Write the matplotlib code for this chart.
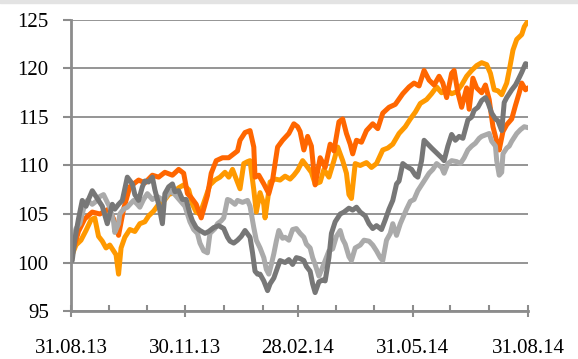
import pandas as pd
import numpy as np
import matplotlib
matplotlib.use("Agg")
import matplotlib.pyplot as plt
import matplotlib.dates as mdates
from matplotlib.patches import Rectangle

start = pd.Timestamp("2013-08-31")
end = pd.Timestamp("2014-08-31")

# days since 31.08.13 and index values
days_orange = [1, 6, 11, 17, 23, 30, 34, 38, 42, 47, 54, 59, 65, 70, 75, 81, 86, 90, 93, 96,
               100, 104, 109, 112, 116, 121, 126, 130, 133, 135, 139, 143, 146, 147, 150, 154,
               158, 161, 165, 169, 174, 178, 181, 183, 186, 189, 192, 195, 199, 203, 207, 210,
               214, 217, 220, 223, 225, 228, 232, 236, 241, 245, 249, 254, 259, 265, 270, 274,
               278, 282, 286, 290, 294, 297, 300, 304, 306, 309, 312, 316, 318, 321, 324, 328,
               331, 334, 337, 340, 342, 345, 348, 352, 355, 358, 360, 363, 365]
vals_orange = [101, 103.2, 104.5, 105.2, 105.0, 105.5, 104.5, 102.8, 105.5, 107.8, 108.5, 108.2,
               109, 108.8, 109.3, 109.0, 109.6, 109.2, 107.1, 106.7, 106, 104.6, 106.9, 109.2,
               110.5, 110.8, 110.8, 111.2, 111.5, 112.6, 113.4, 113.6, 111.9, 108.8, 109, 108.1,
               107.1, 108.5, 111.9, 112.6, 113.3, 114.3, 114, 113.5, 111.6, 113, 112, 108, 110.8,
               109.8, 112.2, 111.5, 114.5, 114.8, 113.3, 112.2, 111.2, 112.6, 112.4, 113.6, 114.3,
               113.8, 115.4, 116, 116.3, 117.4, 118.1, 118.5, 118.2, 119.8, 118.8, 118.3, 119.2,
               118.5, 117, 119.5, 119.8, 117.5, 116, 118, 115.8, 119, 118, 117.5, 118.3, 116.8,
               114, 112.5, 111.6, 113.5, 114.2, 114.8, 116.2, 117.5, 118.5, 117.8, 118]

days_lorange = [0, 4, 8, 12, 16, 19, 22, 25, 28, 31, 34, 36, 38, 40, 43, 47, 51, 55, 59, 62, 66,
                70, 74, 78, 82, 86, 90, 94, 97, 100, 103, 107, 111, 115, 119, 123, 126, 129, 132,
                135, 138, 141, 143, 146, 148, 151, 154, 155, 159, 163, 167, 171, 175, 178, 181,
                185, 188, 192, 195, 199, 202, 206, 210, 213, 217, 220, 222, 224, 227, 231, 236,
                240, 244, 249, 253, 257, 262, 267, 271, 275, 279, 284, 288, 292, 296, 300, 304,
                308, 312, 316, 320, 324, 328, 332, 335, 338, 341, 344, 348, 350, 353, 356, 360,
                362, 365]
vals_lorange = [100.5, 101.8, 102.3, 103.3, 104.4, 104.6, 102.7, 102.2, 101.5, 101.8, 101.2,
                100.8, 98.8, 101.5, 102.6, 103.4, 103.2, 104, 104.2, 104.8, 105.3, 106, 106.3,
                107, 107.2, 107.7, 108, 107.5, 106, 105.2, 105, 106.5, 108, 108.5, 108.8, 109.3,
                108.8, 109.6, 108.6, 107.6, 110.2, 110.4, 110.5, 107.5, 105.2, 107.2, 106, 104.6,
                108.3, 108.6, 108.5, 108.9, 108.6, 109, 109.5, 110.5, 110, 109.3, 108.1, 108.3,
                109.6, 108.8, 110.5, 111.9, 110.5, 109.2, 107, 106.6, 110.2, 110, 110.3, 109.8,
                110.2, 111.6, 111.8, 112.2, 113.3, 114, 114.8, 115.5, 116.4, 116.8, 117.4, 118.1,
                117.5, 117.8, 117.4, 117.6, 118.3, 119.2, 119.8, 120.3, 120.6, 120.4, 119.5,
                117.8, 117.7, 117.3, 118.5, 119.8, 121.9, 123, 123.5, 124.3, 124.9]

days_grey = [1, 3, 6, 9, 12, 14, 17, 20, 22, 25, 29, 33, 35, 38, 41, 45, 49, 51, 54, 57, 59, 62,
             65, 67, 70, 73, 75, 78, 81, 83, 86, 89, 92, 95, 97, 100, 103, 107, 110, 114, 118,
             122, 125, 127, 130, 133, 136, 139, 143, 145, 147, 149, 151, 154, 157, 159, 162, 165,
             167, 171, 174, 177, 180, 183, 186, 188, 191, 193, 195, 198, 201, 203, 206, 208, 211,
             215, 218, 222, 225, 228, 231, 235, 238, 241, 244, 248, 251, 254, 257, 260, 262, 265,
             268, 272, 275, 277, 280, 282, 285, 288, 292, 296, 298, 301, 304, 307, 310, 313, 317,
             320, 322, 325, 328, 331, 333, 336, 339, 341, 344, 346, 348, 352, 355, 357, 360, 363,
             365]
vals_grey = [100.2, 102.3, 104.5, 106.4, 105.8, 106.5, 107.4, 106.8, 106.4, 105.8, 104, 106,
             105.5, 106, 106.4, 108.8, 108.1, 107, 106.4, 107.8, 108.4, 108.3, 108.8, 107.5, 106,
             104, 107.1, 107.8, 108.1, 107.3, 107.4, 106.5, 106.5, 105, 104.3, 103.6, 103.3, 103,
             103.2, 103.6, 103.8, 103.5, 102.6, 102.2, 102, 102.3, 102.7, 103.3, 102.6, 101, 99.1,
             98.8, 98.8, 98.1, 97.1, 97.8, 98.4, 99.5, 100.2, 100, 100.3, 99.8, 100.5, 100.4,
             100.2, 99.6, 99.1, 97.8, 96.9, 98, 98.2, 98.1, 100.5, 103, 104.2, 105, 105.2, 105.6,
             105.4, 105.7, 105.2, 104.8, 104, 103.5, 103.8, 103.4, 104.4, 105.5, 106.4, 108.1,
             108.4, 110.2, 109.9, 109.6, 109, 108.8, 110.5, 112.6, 112.2, 111.8, 111.3, 110.8,
             110.5, 112, 113.2, 112.6, 113, 112.8, 114.7, 115, 115.7, 116, 116.7, 117, 116.5,
             115.4, 114.8, 114.6, 113.6, 116.5, 117, 117.8, 118.3, 118.8, 119.6, 120.5, 120.4]

days_lgrey = [1, 4, 7, 10, 13, 17, 21, 23, 26, 29, 31, 34, 35, 38, 39, 42, 45, 50, 53, 55, 58,
              61, 65, 69, 74, 77, 79, 83, 87, 91, 93, 95, 98, 101, 103, 106, 109, 111, 115, 117,
              120, 122, 125, 127, 131, 133, 137, 141, 143, 146, 148, 151, 154, 156, 158, 160, 162,
              164, 166, 169, 171, 174, 177, 180, 183, 186, 188, 191, 193, 195, 198, 200, 203, 206,
              209, 212, 215, 217, 219, 222, 224, 227, 231, 234, 238, 241, 244, 247, 249, 252, 255,
              257, 260, 263, 265, 268, 271, 274, 277, 280, 284, 286, 289, 292, 296, 298, 301, 304,
              308, 311, 314, 317, 320, 323, 326, 328, 332, 334, 336, 339, 340, 342, 344, 345, 348,
              350, 352, 356, 359, 362, 365]
vals_lgrey = [102, 103.5, 104, 105.5, 106.4, 106, 106.4, 106.8, 107, 106.2, 105.7, 104.2, 103.1,
              104, 105, 105.5, 105.7, 106.4, 106, 105.7, 106.5, 107.1, 106.5, 106.8, 106.4, 107,
              107.4, 107, 106.4, 105.8, 105, 104.2, 103.4, 103, 102, 101.2, 101, 103, 103.5, 104,
              104.3, 104.6, 106.5, 106.4, 106, 106.4, 106.2, 106.4, 105.8, 103.6, 102.3, 101.5,
              100.5, 99.3, 98.8, 99.8, 100.9, 102.2, 103.3, 102.5, 102.6, 102.3, 103.4, 103.5,
              103, 102.6, 101.9, 101.5, 100.5, 99.8, 98.6, 99.2, 100.2, 101.2, 101.4, 102.7,
              103.3, 102.4, 101.9, 100.6, 100.2, 101.5, 101.8, 102.3, 102.2, 101.8, 101.2, 100.5,
              100.2, 102.3, 103, 104, 102.8, 104, 104.6, 105.5, 106.3, 106.5, 107.4, 108, 108.8,
              109.2, 109.6, 110.2, 109.8, 109.2, 110.2, 110.5, 110.4, 110.2, 110.8, 111.6, 112,
              112.3, 112.8, 113, 113.2, 113.3, 112.5, 112, 110.5, 109, 109.3, 111.2, 111.8, 112,
              112.5, 113.3, 113.7, 114, 113.9]

series = [
    (days_lorange, vals_lorange, "#ff9900"),
    (days_orange, vals_orange, "#ff6600"),
    (days_lgrey, vals_lgrey, "#aaaaaa"),
    (days_grey, vals_grey, "#777777"),
]

plt.rcParams["font.family"] = ["Liberation Serif", "DejaVu Serif"]

fig = plt.figure(figsize=(5.78, 3.59), dpi=100)
ax = fig.add_axes([0.1228, 0.1337, 0.7907, 0.8106])
fig.patches.append(Rectangle((0, 1 - 3 / 359), 1, 3 / 359, transform=fig.transFigure,
                             color="#e3e3e3", zorder=0))

for days, vals, col in series:
    dates = start + pd.to_timedelta(days, unit="D")
    ax.plot(dates, vals, color=col, linewidth=3.6, solid_joinstyle="round", solid_capstyle="round")

grid_col = "#8c8c8c"
ax.set_ylim(95, 125)
ax.set_yticks(np.arange(95, 126, 5))
ax.set_xlim(start, end)
ax.grid(axis="y", color=grid_col, linewidth=1.3)
ax.set_axisbelow(True)

month_ends = pd.date_range(start, end, freq="ME")
ax.set_xticks(month_ends[::3])
ax.set_xticks(month_ends, minor=True)
ax.xaxis.set_major_formatter(mdates.DateFormatter("%d.%m.%y"))

for s in ["top", "right"]:
    ax.spines[s].set_visible(False)
for s in ["left", "bottom"]:
    ax.spines[s].set_color(grid_col)
    ax.spines[s].set_linewidth(2)

ax.tick_params(axis="y", direction="out", length=6, width=1.5, color=grid_col, pad=10,
               labelsize=15)
ax.tick_params(axis="x", which="major", direction="inout", length=8, width=1.5,
               color=grid_col, pad=16, labelsize=15)
ax.tick_params(axis="x", which="minor", direction="in", length=4, width=1.5, color=grid_col)

fig.savefig("out.png", dpi=100)
